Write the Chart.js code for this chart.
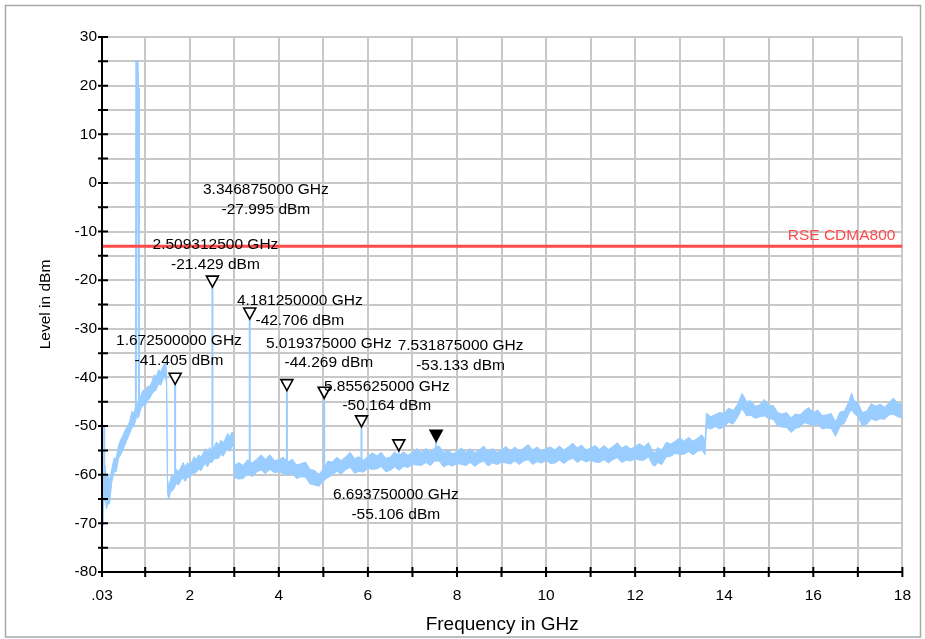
<!DOCTYPE html>
<html>
<head>
<meta charset="utf-8">
<script src="https://cdn.jsdelivr.net/npm/chart.js@4.4.0/dist/chart.umd.min.js"></script>
<style>
  html, body { margin: 0; padding: 0; background: #fff; }
  #wrap { width: 925px; height: 639px; }
</style>
</head>
<body>
<div id="wrap"><canvas id="chart" width="925" height="639"></canvas></div>
<script>
// Шумовая полоса спектра: [частота GHz, нижний край dBm, верхний край dBm]
const traceBand = [
  [0.03, -66, -60], [0.05, -70.5, -63], [0.07, -66, -60], [0.1, -64, -58], [0.13, -67, -61], [0.16, -66, -60],
  [0.2, -66, -61], [0.25, -61.5, -58.8], [0.3, -59.5, -56.6], [0.35, -59.3, -56.5], [0.4, -56.7, -54], [0.45, -55.9, -52.8],
  [0.5, -54.9, -51.9], [0.55, -53.8, -50.8], [0.6, -52.6, -50.1], [0.65, -51.6, -49.1], [0.7, -50.4, -47], [0.75, -50, -47.3],
  [0.8, -48.3, -45.4], [0.85, -48.3, -45.5], [0.9, -46.5, -43.8], [0.95, -45.7, -42.6], [1.0, -45.9, -42.9], [1.05, -44.8, -41.8],
  [1.1, -44.4, -41.9], [1.15, -43.4, -40.9], [1.2, -42.9, -39.5], [1.25, -42.5, -39.8], [1.3, -41.3, -38.4], [1.35, -41.6, -38.8],
  [1.4, -40.4, -37.7], [1.45, -39.9, -36.8], [1.48, -41.2, -38.2],
  [1.5, -63.8, -60.8], [1.53, -65.1, -62.6], [1.57, -63.4, -60.9], [1.6, -63.4, -60], [1.65, -62.8, -60.1], [1.7, -61.8, -58.9],
  [1.75, -62.1, -59.3], [1.8, -61.2, -58.5], [1.85, -60.6, -57.5], [1.9, -61.4, -58.4], [1.95, -60.5, -57.5], [2.0, -60.6, -58.1],
  [2.05, -59.7, -57.2], [2.1, -59.7, -56.3], [2.15, -59.5, -56.8], [2.2, -58.8, -55.9], [2.25, -59.2, -56.4], [2.3, -58.3, -55.6],
  [2.35, -57.7, -54.6], [2.4, -58.4, -55.4], [2.45, -57.4, -54.4], [2.5, -57.5, -55], [2.55, -56.7, -54.2], [2.6, -56.7, -53.3],
  [2.65, -56.6, -53.9], [2.7, -55.8, -52.9], [2.75, -56.2, -53.4], [2.8, -55.3, -52.6], [2.85, -54.6, -51.5], [2.9, -55.2, -52.2],
  [2.95, -54.2, -51.2], [2.98, -54.2, -51.7],
  [3.0, -60.6, -58.1], [3.1, -60.9, -57.5], [3.2, -60.8, -58.1], [3.3, -59.8, -56.9], [3.4, -60.4, -57.6], [3.5, -59.5, -56.8],
  [3.6, -59, -55.9], [3.7, -59.8, -56.8], [3.8, -58.9, -55.9], [3.9, -59.6, -57.1], [4.0, -59.4, -56.9], [4.1, -59.8, -56.4],
  [4.2, -60.1, -57.4], [4.3, -59.7, -56.8], [4.4, -60.8, -58], [4.5, -60.4, -57.7], [4.6, -60.5, -57.4], [4.7, -61.9, -58.9],
  [4.8, -62.1, -59.1], [4.9, -62.4, -59.9], [5.0, -61.3, -58.8], [5.1, -60.6, -57.2], [5.2, -60.1, -57.4], [5.3, -59.3, -56.4],
  [5.4, -59.9, -57.1], [5.5, -59, -56.3], [5.6, -58.5, -55.4], [5.7, -59.7, -56.7], [5.8, -59.3, -56.3], [5.9, -59.5, -57],
  [6.0, -58.7, -56.2], [6.1, -58.9, -55.5], [6.2, -58.8, -56.1], [6.3, -58.3, -55.4], [6.4, -59.4, -56.6], [6.5, -59.1, -56.4],
  [6.6, -58.4, -55.3], [6.7, -59.1, -56.1], [6.8, -58.3, -55.3], [6.9, -58.5, -56], [7.0, -57.9, -55.4], [7.1, -58, -54.6],
  [7.2, -58.1, -55.4], [7.3, -57.5, -54.6], [7.4, -58.1, -55.3], [7.5, -57.2, -54.5], [7.6, -57.2, -54.1], [7.7, -58.4, -55.4],
  [7.8, -57.9, -54.9], [7.9, -58.2, -55.7], [8.0, -57.7, -55.2], [8.1, -57.9, -54.5], [8.2, -58.1, -55.4], [8.3, -57.5, -54.6],
  [8.4, -58.3, -55.5], [8.5, -57.6, -54.9], [8.6, -57.2, -54.1], [8.7, -58.2, -55.2], [8.8, -57.6, -54.6], [8.9, -57.9, -55.4],
  [9.0, -57.4, -54.9], [9.1, -57.6, -54.2], [9.2, -57.8, -55.1], [9.3, -57.2, -54.3], [9.4, -57.9, -55.1], [9.5, -57.2, -54.5],
  [9.6, -56.9, -53.8], [9.7, -57.9, -54.9], [9.8, -57.3, -54.3], [9.9, -57.6, -55.1], [10.0, -57.1, -54.6], [10.1, -57.7, -54.3],
  [10.2, -57.6, -54.9], [10.3, -57, -54.1], [10.4, -57.7, -54.9], [10.5, -57, -54.3], [10.6, -56.6, -53.5], [10.7, -57.5, -54.5],
  [10.8, -56.9, -53.9], [10.9, -57.4, -54.9], [11.0, -57, -54.5], [11.1, -57.4, -54], [11.2, -57.5, -54.8], [11.3, -56.9, -54],
  [11.4, -57.6, -54.8], [11.5, -56.9, -54.2], [11.6, -56.5, -53.4], [11.7, -57.5, -54.5], [11.8, -57, -54], [11.9, -57.2, -54.7],
  [12.0, -56.7, -54.2], [12.1, -57, -53.6], [12.2, -57, -54.3], [12.3, -56.3, -53.4], [12.4, -58.1, -55.3], [12.45, -58.2, -55.5],
  [12.5, -57.5, -54.4], [12.6, -57.9, -54.9], [12.7, -56.3, -53.3], [12.8, -56.2, -53.7], [12.9, -55.6, -53.1], [13.0, -55.8, -52.4],
  [13.1, -55.8, -53.1], [13.2, -55.2, -52.3], [13.3, -55.9, -53.1], [13.4, -55.2, -52.5], [13.5, -54.9, -51.8], [13.57, -55.9, -52.9],
  [13.6, -50.3, -47.3], [13.7, -50.6, -48.1], [13.8, -50.1, -47.6], [13.9, -50.6, -47.2], [14.0, -50.1, -47.4], [14.1, -49.2, -46.3],
  [14.2, -49.6, -46.8], [14.3, -48.2, -45.5], [14.4, -46.4, -43.3], [14.5, -47.9, -44.9], [14.6, -47.8, -44.8], [14.7, -48.4, -45.9],
  [14.8, -48.1, -45.6], [14.9, -47.9, -44.5], [15.0, -48.5, -45.8], [15.1, -48.6, -45.7], [15.2, -50, -47.2], [15.3, -50.2, -47.5],
  [15.4, -50.3, -47.2], [15.5, -51.3, -48.3], [15.6, -50.5, -47.5], [15.7, -50.2, -47.7], [15.8, -49.3, -46.8], [15.9, -49.6, -46.2],
  [16.0, -49.9, -47.2], [16.1, -49.6, -46.7], [16.2, -50.6, -47.8], [16.3, -50.4, -47.7], [16.4, -50.5, -47.4], [16.5, -52.1, -49.1],
  [16.6, -50.1, -47.1], [16.7, -49.4, -46.9], [16.8, -47.4, -44.9], [16.86, -46.6, -43.2], [16.92, -47.5, -44.8], [17.0, -48, -45.1],
  [17.1, -50, -47.2], [17.2, -49.6, -46.9], [17.3, -48.5, -45.4], [17.4, -48.9, -45.9], [17.5, -48.5, -45.5], [17.6, -48.6, -46.1],
  [17.7, -47.7, -45.2], [17.8, -47.6, -44.2], [17.9, -48.1, -45.4], [18.0, -48.3, -45.4],
];

// Несущая CDMA800 и узкий выброс в начале
const carrierSpike = [[0.79, -47], [0.8, 25], [0.83, 25], [0.84, 19.5], [0.86, -46]];
const lowSpike = [[0.08, -64], [0.08, -50], [0.08, -64]];

// Маркеры гармоник
const markerFreq = [1.6725, 2.5093125, 3.346875, 4.18125, 5.019375, 5.855625, 6.69375, 7.531875];
const markerLevel = [-41.405, -21.429, -27.995, -42.706, -44.269, -50.164, -55.106, -53.133];
const markerBase = [-61.5, -56, -58.5, -58.5, -60.5, -58, -57.5, -56];
const activeMarker = 7;

// Линия предела
const limitLevel = -13;
const limitName = 'RSE CDMA800';

const xTickValues = [0.03, 1, 2, 3, 4, 5, 6, 7, 8, 9, 10, 11, 12, 13, 14, 15, 16, 17, 18];
const xTitle = 'Frequency in GHz';
const yTitle = 'Level in dBm';

const FONT = '"Liberation Sans", Arial, Helvetica, sans-serif';
const traceColor = '#99ccff';

// Куда ставить подписи маркеров (центр первой строки, в единицах осей)
const labelAt = [
  [1.758, -32.5], [2.577, -12.76], [3.71, -1.46], [4.472, -24.3],
  [5.123, -32.97], [6.424, -41.9], [6.626, -64.16], [8.08, -33.5],
];

function spikePoints() {
  const pts = [];
  const add = (pairs) => {
    pairs.forEach(([x, y]) => pts.push({ x, y }));
    pts.push({ x: pairs[pairs.length - 1][0], y: null });
  };
  add(lowSpike);
  add(carrierSpike);
  markerFreq.forEach((f, i) => add([[f, markerBase[i]], [f, markerLevel[i]], [f, markerBase[i]]]));
  return pts;
}

const extras = {
  id: 'extras',
  beforeDraw(chart) {
    const { ctx } = chart;
    ctx.save();
    ctx.fillStyle = '#fff';
    ctx.fillRect(0, 0, chart.width, chart.height);
    ctx.strokeStyle = '#a8a8a8';
    ctx.lineWidth = 1.5;
    ctx.strokeRect(5.5, 5.5, 915, 631.5);
    ctx.restore();
  },
  afterDraw(chart) {
    const { ctx, chartArea: a } = chart;
    const xs = chart.scales.x;
    const ys = chart.scales.y;
    ctx.save();

    // оси с засечками
    ctx.strokeStyle = '#000';
    ctx.lineWidth = 2;
    ctx.beginPath();
    ctx.moveTo(a.left, a.top);
    ctx.lineTo(a.left, a.bottom);
    ctx.lineTo(a.right, a.bottom);
    ys.ticks.forEach((t) => {
      const py = ys.getPixelForValue(t.value);
      ctx.moveTo(a.left - 4, py);
      ctx.lineTo(a.left + 6, py);
    });
    xs.ticks.forEach((t) => {
      const px = xs.getPixelForValue(t.value);
      ctx.moveTo(px, a.bottom - 5);
      ctx.lineTo(px, a.bottom + 5);
    });
    ctx.stroke();

    // подпись линии предела
    ctx.fillStyle = '#ff4a4a';
    ctx.font = '15.5px ' + FONT;
    ctx.textAlign = 'right';
    ctx.textBaseline = 'middle';
    ctx.fillText(limitName, a.right - 7, ys.getPixelForValue(limitLevel) - 10);

    // треугольники маркеров
    ctx.lineWidth = 1.6;
    ctx.strokeStyle = '#000';
    markerFreq.forEach((f, i) => {
      const px = xs.getPixelForValue(f);
      const py = ys.getPixelForValue(markerLevel[i]);
      ctx.beginPath();
      ctx.moveTo(px - 6, py - 11);
      ctx.lineTo(px + 6, py - 11);
      ctx.lineTo(px, py);
      ctx.closePath();
      ctx.fillStyle = i === activeMarker ? '#000' : '#fff';
      ctx.fill();
      ctx.stroke();
    });

    // подписи маркеров
    ctx.fillStyle = '#000';
    ctx.textAlign = 'center';
    markerFreq.forEach((f, i) => {
      const px = xs.getPixelForValue(labelAt[i][0]);
      const py = ys.getPixelForValue(labelAt[i][1]);
      ctx.fillText(f.toFixed(9) + ' GHz', px, py);
      ctx.fillText(markerLevel[i].toFixed(3) + ' dBm', px, py + 19.5);
    });
    ctx.restore();
  },
};

const gridColor = '#c8c8c8';

new Chart(document.getElementById('chart').getContext('2d'), {
  type: 'line',
  data: {
    datasets: [
      {
        label: limitName,
        data: [{ x: 0.03, y: limitLevel }, { x: 18, y: limitLevel }],
        borderColor: '#ff4a4a',
        borderWidth: 3,
        pointRadius: 0,
        order: 0,
      },
      {
        label: 'spikes',
        data: spikePoints(),
        borderColor: traceColor,
        borderWidth: 2,
        pointRadius: 0,
        spanGaps: false,
        order: 1,
      },
      {
        label: 'trace low',
        data: traceBand.map(([f, lo]) => ({ x: f, y: lo })),
        borderColor: traceColor,
        borderWidth: 1,
        pointRadius: 0,
        fill: false,
        order: 2,
      },
      {
        label: 'trace high',
        data: traceBand.map(([f, , hi]) => ({ x: f, y: hi })),
        borderColor: traceColor,
        backgroundColor: traceColor,
        borderWidth: 1,
        pointRadius: 0,
        fill: '-1',
        order: 2,
      },
    ],
  },
  options: {
    animation: false,
    responsive: false,
    events: [],
    layout: { padding: { top: 37, right: 22, left: 0, bottom: 0 } },
    plugins: {
      legend: { display: false },
      tooltip: { enabled: false },
    },
    scales: {
      x: {
        type: 'linear',
        min: 0.03,
        max: 18,
        afterBuildTicks: (scale) => {
          scale.ticks = xTickValues.map((v) => ({ value: v }));
        },
        afterFit: (scale) => {
          scale.height = 67;
        },
        grid: { color: gridColor, lineWidth: 2, drawTicks: false },
        border: { display: false },
        ticks: {
          autoSkip: false,
          maxRotation: 0,
          padding: 14,
          color: '#000',
          font: { family: FONT, size: 15.5 },
          callback: (v) => (v === 0.03 ? '.03' : v % 2 === 0 ? String(v) : ''),
        },
        title: {
          display: true,
          text: xTitle,
          color: '#000',
          font: { family: FONT, size: 19 },
          padding: { top: 0, bottom: 3 },
        },
      },
      y: {
        min: -80,
        max: 30,
        afterFit: (scale) => {
          scale.width = 102;
        },
        grid: { color: gridColor, lineWidth: 2, drawTicks: false },
        border: { display: false },
        ticks: {
          stepSize: 5,
          padding: 5,
          color: '#000',
          font: { family: FONT, size: 15.5 },
          callback: (v) => (v % 10 === 0 ? String(v) : ''),
        },
        title: {
          display: true,
          text: yTitle,
          color: '#000',
          font: { family: FONT, size: 15.5 },
          padding: { top: 36, bottom: 0 },
        },
      },
    },
  },
  plugins: [extras],
});
</script>
</body>
</html>
